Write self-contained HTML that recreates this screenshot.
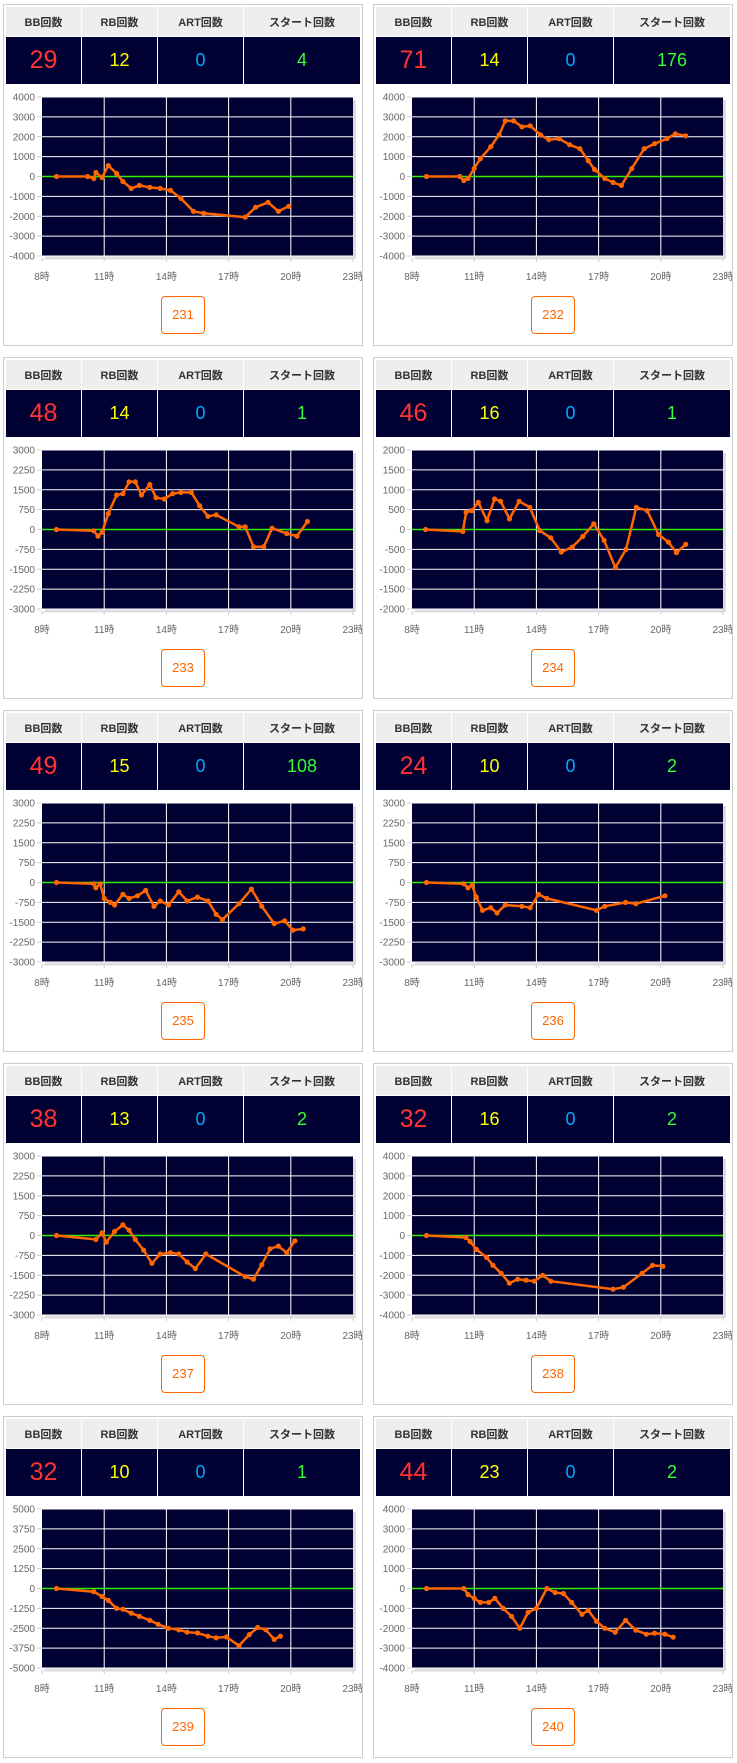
<!DOCTYPE html>
<html><head><meta charset="utf-8">
<style>
body{margin:0;background:#fff;width:737px;height:1763px;position:relative;overflow:hidden;font-family:"Liberation Sans","Noto Sans CJK JP",sans-serif}
.p{position:absolute;width:358px;height:340px;border:1px solid #ccc;background:#fff}
.t{position:absolute;left:1px;top:1px;width:356px;border-collapse:collapse;table-layout:fixed}
.t td{border:1px solid #fff;text-align:center;padding:0}
.h td{background:#eee;height:29px;font-size:11px;font-weight:bold;color:#333}
.v td{background:#000033;height:47px;font-size:18px}
.v td.bb{color:#ff3333;font-size:25px}
.v td.rb{color:#ffff00}.v td.art{color:#00aaff}.v td.st{color:#33ff33}
svg{position:absolute;left:0;top:80px}
.b{position:absolute;left:157px;top:291px;width:42px;height:36px;border:1px solid #ff6600;border-radius:4px;color:#ff6600;font-size:13px;text-align:center;line-height:36px}
</style></head><body>
<div id="root"></div>
<script>
const D=[
[231,29,12,0,4,4000,1000,[[8.7,0],[10.2,0],[10.5,-100],[10.6,200],[10.9,-50],[11.2,550],[11.6,150],[11.9,-250],[12.3,-600],[12.7,-450],[13.2,-550],[13.7,-600],[14.2,-700],[14.7,-1100],[15.3,-1750],[15.8,-1850],[17.8,-2050],[18.3,-1550],[18.9,-1300],[19.4,-1750],[19.9,-1500]]],
[232,71,14,0,176,4000,1000,[[8.7,0],[10.3,0],[10.5,-200],[10.7,-100],[11,400],[11.3,900],[11.8,1500],[12.2,2100],[12.5,2800],[12.9,2800],[13.3,2500],[13.7,2550],[14.2,2100],[14.6,1850],[15.1,1900],[15.6,1600],[16.1,1400],[16.5,800],[16.8,350],[17.3,-100],[17.7,-300],[18.1,-450],[18.6,400],[19.2,1400],[19.7,1650],[20.3,1900],[20.7,2150],[21.2,2050]]],
[233,48,14,0,1,3000,750,[[8.7,0],[10.5,-50],[10.7,-250],[10.9,-100],[11.2,600],[11.6,1300],[11.9,1350],[12.2,1800],[12.5,1800],[12.8,1300],[13.2,1700],[13.5,1200],[13.9,1150],[14.3,1350],[14.7,1400],[15.2,1400],[15.6,900],[16,500],[16.4,550],[17.5,100],[17.8,100],[18.2,-650],[18.7,-650],[19.1,50],[19.8,-150],[20.3,-250],[20.8,300]]],
[234,46,16,0,1,2000,500,null],
[235,49,15,0,108,3000,750,[[8.7,0],[10.5,-50],[10.6,-200],[10.8,-50],[11,-600],[11.3,-750],[11.5,-850],[11.9,-450],[12.2,-600],[12.6,-500],[13,-300],[13.4,-900],[13.7,-700],[14.1,-850],[14.6,-350],[15,-700],[15.5,-550],[16,-700],[16.4,-1200],[16.7,-1400],[17.5,-800],[18.1,-250],[18.6,-900],[19.2,-1550],[19.7,-1450],[20.1,-1800],[20.6,-1750]]],
[236,24,10,0,2,3000,750,[[8.7,0],[10.5,-50],[10.7,-200],[10.9,-100],[11.1,-550],[11.4,-1050],[11.8,-950],[12.1,-1150],[12.5,-850],[13.3,-900],[13.7,-950],[14.1,-450],[14.5,-600],[16.9,-1050],[17.3,-900],[18.3,-750],[18.8,-800],[20.2,-500]]],
[237,38,13,0,2,3000,750,[[8.7,0],[10.6,-150],[10.9,100],[11.1,-250],[11.5,150],[11.9,400],[12.2,200],[12.5,-150],[12.9,-550],[13.3,-1050],[13.7,-700],[14.2,-650],[14.6,-700],[15,-1000],[15.4,-1250],[15.9,-700],[17.8,-1550],[18.2,-1650],[18.6,-1100],[19,-500],[19.4,-400],[19.8,-650],[20.2,-200]]],
[238,32,16,0,2,4000,1000,[[8.7,0],[10.6,-100],[10.8,-300],[11.1,-700],[11.6,-1100],[11.9,-1500],[12.3,-1900],[12.7,-2400],[13.1,-2200],[13.5,-2250],[13.9,-2300],[14.3,-2000],[14.7,-2300],[17.7,-2700],[18.2,-2600],[19.1,-1900],[19.6,-1500],[20.1,-1550]]],
[239,32,10,0,1,5000,1250,[[8.7,0],[10.5,-200],[10.9,-500],[11.2,-750],[11.6,-1250],[11.9,-1300],[12.3,-1550],[12.7,-1750],[13.2,-2000],[13.6,-2250],[14.1,-2500],[14.6,-2600],[15,-2750],[15.5,-2800],[16,-3000],[16.4,-3100],[16.9,-3050],[17.5,-3600],[18,-2900],[18.4,-2450],[18.8,-2600],[19.2,-3200],[19.5,-3000]]],
[240,44,23,0,2,4000,1000,[[8.7,0],[10.5,0],[10.7,-300],[11,-500],[11.3,-700],[11.7,-700],[12,-500],[12.4,-1000],[12.8,-1400],[13.2,-2000],[13.6,-1200],[14,-1000],[14.5,0],[14.9,-200],[15.3,-250],[15.7,-700],[16.2,-1300],[16.5,-1100],[16.9,-1650],[17.3,-2000],[17.8,-2200],[18.3,-1600],[18.8,-2100],[19.3,-2300],[19.7,-2250],[20.2,-2300],[20.6,-2450]]]
];
const z234=[[178,597],[290,603],[300,545],[317,540],[337,515],[363,570],[386,505],[404,512],[431,565],[460,512],[492,530],[522,600],[555,622],[587,665],[620,650],[652,618],[685,580],[716,630],[750,712],[782,657],[813,530],[846,540],[880,612],[910,635],[934,667],[962,642]];
D[3][7]=z234.map(p=>[8+(p[0]-137)/62.5,(597-p[1])*500/60]);
let h='';
D.forEach((d,i)=>{
 const L=i%2?373:3,T=4+353*Math.floor(i/2);
 const X0=38,X1=349,Y0=12,Y1=171,M=d[5];
 const fx=t=>X0+(t-8)*(X1-X0)/15, fy=v=>Y0+(M-v)*(Y1-Y0)/(2*M);
 let s='<svg width="358" height="210">';
 s+=`<rect x="${X0+3}" y="${Y0+3}" width="${X1-X0}" height="${Y1-Y0}" fill="#ddd"/>`;
 s+=`<rect x="${X0}" y="${Y0}" width="${X1-X0}" height="${Y1-Y0}" fill="#000033"/>`;
 for(let k=0;k<=8;k++){const v=M-k*d[6],y=fy(v);
  s+=`<line x1="${X0}" x2="${X1}" y1="${y}" y2="${y}" stroke="#fff" stroke-width="1"/>`;
  s+=`<text x="31" y="${y+3.5}" font-size="10" fill="#666" text-anchor="end">${v}</text><line x1="33" x2="37" y1="${y}" y2="${y}" stroke="#ccc"/>`;}
 for(let k=0;k<=5;k++){const x=fx(8+3*k);
  if(k>0&&k<5)s+=`<line x1="${x}" x2="${x}" y1="${Y0}" y2="${Y1}" stroke="#fff"/>`;
  s+=`<line x1="${x}" x2="${x}" y1="${Y1+2}" y2="${Y1+6}" stroke="#ccc"/>`;
  s+=`<text x="${x}" y="${Y1+24}" font-size="10" fill="#666" text-anchor="middle">${8+3*k}時</text>`;}
 s+=`<line x1="${X0}" x2="${X1}" y1="${Y1+3}" y2="${Y1+3}" stroke="#ddd"/>`;
 s+=`<line x1="${X0}" x2="${X1}" y1="${fy(0)}" y2="${fy(0)}" stroke="#33ee00" stroke-width="1.5"/>`;
 const pts=d[7].map(p=>fx(p[0]).toFixed(1)+','+fy(p[1]).toFixed(1));
 s+=`<polyline points="${pts.join(' ')}" fill="none" stroke="#ff6600" stroke-width="2.5"/>`;
 pts.forEach(p=>{const [a,b]=p.split(',');s+=`<circle cx="${a}" cy="${b}" r="2.6" fill="#ff6600"/>`;});
 s+='</svg>';
 h+=`<div class="p" style="left:${L}px;top:${T}px"><table class="t"><colgroup><col style="width:76px"><col style="width:76px"><col style="width:86px"><col></colgroup>
<tr class="h"><td>BB回数</td><td>RB回数</td><td>ART回数</td><td>スタート回数</td></tr>
<tr class="v"><td class="bb">${d[1]}</td><td class="rb">${d[2]}</td><td class="art">${d[3]}</td><td class="st">${d[4]}</td></tr></table>${s}<div class="b">${d[0]}</div></div>`;
});
document.getElementById('root').innerHTML=h;
</script>
</body></html>
